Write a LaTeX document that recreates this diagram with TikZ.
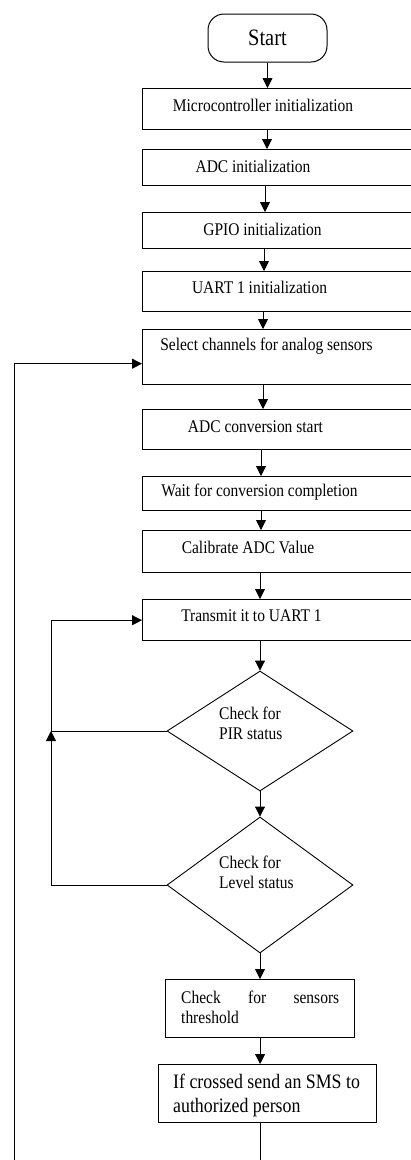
\documentclass[tikz,border=0pt]{standalone}
\usepackage{fontspec}
\setmainfont{Liberation Serif}[FakeStretch=0.87]
\usetikzlibrary{arrows.meta,shapes.geometric}
\begin{document}
\begin{tikzpicture}[x=1pt,y=-1pt,
  box/.style={draw, line width=1.4pt, rectangle, inner sep=0pt, anchor=north west},
  dia/.style={draw, line width=0.9pt, diamond, inner sep=0pt},
  txt/.style={inner sep=0pt, font=\fontsize{17.8}{20}\selectfont},
  arr/.style={draw, line width=0.9pt, -{Triangle[width=10pt,length=10pt]}},
  ln/.style={draw, line width=0.9pt}]
\useasboundingbox (0,0) rectangle (411,1160);
\clip (0,0) rectangle (411,1160);
\fill[white] (0,0) rectangle (411,1160);

% terminal
\node[draw, line width=1pt, rounded corners=16pt, minimum width=119pt, minimum height=48pt, inner sep=0pt,
      font=\fontsize{23.5}{26}\selectfont] (start) at (267.5,38) {Start};

% process boxes
\node[box, minimum width=283pt, minimum height=41pt] (b1) at (142,88) {};
\node[box, minimum width=283pt, minimum height=36pt] (b2) at (142,149) {};
\node[box, minimum width=283pt, minimum height=36pt] (b3) at (142,212) {};
\node[box, minimum width=283pt, minimum height=40pt] (b4) at (142,271) {};
\node[box, minimum width=283pt, minimum height=55pt] (b5) at (142,329) {};
\node[box, minimum width=283pt, minimum height=40pt] (b6) at (142,409) {};
\node[box, minimum width=283pt, minimum height=34pt] (b7) at (142,476) {};
\node[box, minimum width=283pt, minimum height=42pt] (b8) at (142,530) {};
\node[box, minimum width=283pt, minimum height=41pt] (b9) at (142,599) {};
\node[box, line width=1.2pt, minimum width=189pt, minimum height=58pt] (b10) at (165,979) {};
\node[box, line width=1.2pt, minimum width=218pt, minimum height=58pt] (b11) at (158,1064) {};

% decisions
\node[dia, minimum width=186pt, minimum height=120pt] (d1) at (260,731) {};
\node[dia, minimum width=186pt, minimum height=136pt] (d2) at (260,885) {};

% texts
\node[txt] (t1) at (263,105) {Microcontroller initialization};
\node[txt] (t2) at (253,166) {ADC initialization};
\node[txt] (t3) at (262.5,229) {GPIO initialization};
\node[txt] (t4) at (259.5,287) {UART 1 initialization};
\node[txt] (t5) at (266.5,346) {Select channels for analog sensors};
\node[txt] (t6) at (255.5,427) {ADC conversion start};
\node[txt] (t7) at (259.5,492) {Wait for conversion completion};
\node[txt] (t8) at (248,547) {Calibrate ADC Value};
\node[txt] (t9) at (251.5,616) {Transmit it to UART 1};
\node[txt, anchor=west, align=left] (t12) at (219,723) {Check for\\PIR status};
\node[txt, anchor=west, align=left] (t13) at (219,872.5) {Check for\\Level status};
\node[txt, anchor=west, align=left] (t10) at (181,1007) {\makebox[158pt][s]{Check for sensors}\\threshold};
\node[txt, anchor=west, align=left, font=\fontsize{20.5}{24}\selectfont] (t11) at (173,1095) {If crossed send an SMS to\\authorized person};

% main flow
\draw[arr] (start.south) -- (start.south |- b1.north);
\draw[arr] ([xshift=125pt]b1.south west) -- ([xshift=125pt]b2.north west);
\draw[arr] ([xshift=123pt]b2.south west) -- ([xshift=123pt]b3.north west);
\draw[arr] ([xshift=122pt]b3.south west) -- ([xshift=122pt]b4.north west);
\draw[arr] ([xshift=121pt]b4.south west) -- ([xshift=121pt]b5.north west);
\draw[arr] ([xshift=121pt]b5.south west) -- ([xshift=121pt]b6.north west);
\draw[arr] ([xshift=119pt]b6.south west) -- ([xshift=119pt]b7.north west);
\draw[arr] ([xshift=119pt]b7.south west) -- ([xshift=119pt]b8.north west);
\draw[arr] ([xshift=118pt]b8.south west) -- ([xshift=118pt]b9.north west);
\draw[arr] ([xshift=118pt]b9.south west) -- (d1.north);
\draw[arr] (d1.south) -- (d2.north);
\draw[arr] (d2.south) -- (d2.south |- b10.north);
\draw[arr] (b10.south) -- (b10.south |- b11.north);

% inner loop
\coordinate (j1) at (51,731);
\draw[ln] (d1.west) -- (j1);
\draw[arr] (d2.west) -| (j1);
\draw[arr] (j1) |- (b9.west);

% outer loop
\coordinate (lb) at (14,1185);
\draw[arr] (b11.south -| b10.south) |- (lb) |- ([yshift=-6.5pt]b5.west);
\end{tikzpicture}
\end{document}
